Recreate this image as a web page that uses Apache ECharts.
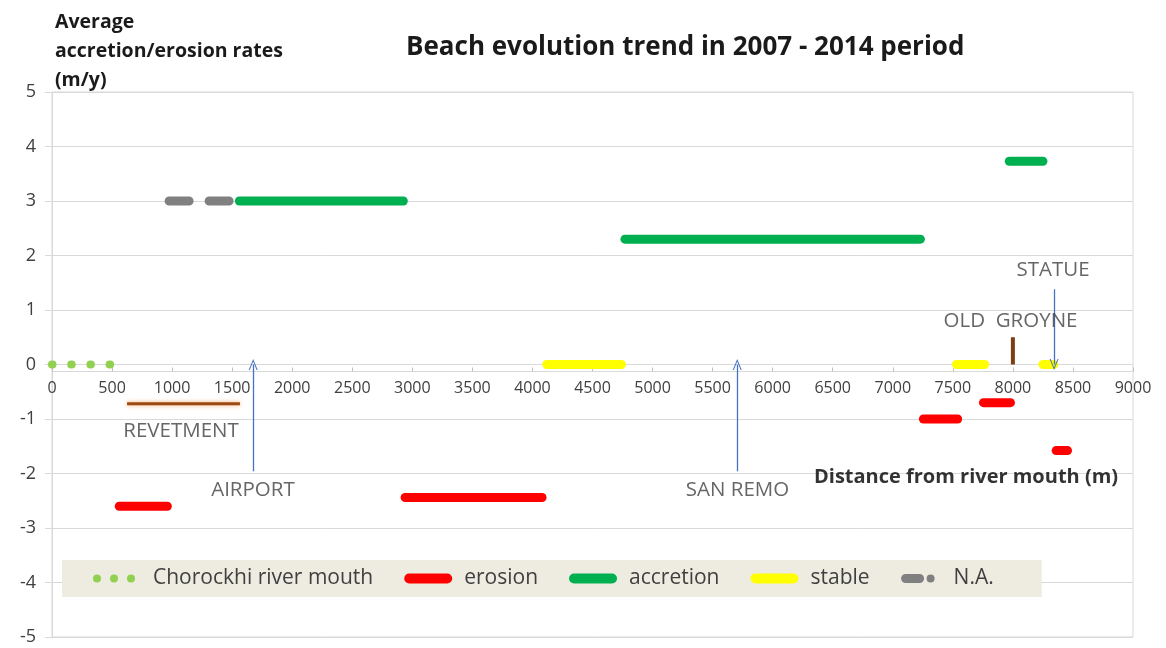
<!DOCTYPE html>
<html>
<head>
<meta charset="utf-8">
<title>Beach evolution trend in 2007 - 2014 period</title>
<script src="https://cdn.jsdelivr.net/npm/echarts@6/dist/echarts.min.js"></script>
<style>
  html, body { margin: 0; padding: 0; background: #ffffff; }
  #chart { width: 1166px; height: 648px; }
</style>
</head>
<body>
<div id="chart"></div>
<script>
// Axis ranges (distance along the coast in metres, rate in m/y)
const xRange = { min: 0, max: 9000, step: 500 };
const yRange = { min: -5, max: 5, step: 1 };

// Each segment: [startDistance, endDistance, averageRate]
const riverMouth = [[0, 500, 0]];
const erosion = [
  [560, 960, -2.6],
  [2940, 4080, -2.44],
  [7255, 7540, -1.0],
  [7755, 7980, -0.7],
  [8360, 8455, -1.58]
];
const accretion = [
  [1560, 2925, 3.0],
  [4770, 7230, 2.3],
  [7970, 8250, 3.73]
];
const stable = [
  [4120, 4740, 0],
  [7530, 7765, 0],
  [8250, 8340, 0]
];
const notAvailable = [[975, 1540, 3.0]];

// Coastal structures
const revetment = [[625, 1565, -0.72]];
const groyne = [[8000, 0, 0.5]];          // [distance, from, to]

// Landmark arrows: [distance, from rate, to rate]
const arrows = [
  [1675, -1.96, 0],
  [5705, -1.96, 0],
  [8343, 1.38, 0]
];

// Text annotations: [text, distance, rate]
const notes = [
  ['REVETMENT', 1074, -1.23],
  ['AIRPORT', 1673, -2.31],
  ['SAN REMO', 5707, -2.31],
  ['OLD  GROYNE', 7980, 0.79],
  ['STATUE', 8334, 1.74]
];
const axisNote = ['Distance from river mouth (m)', 7610, -2.07];

const FONT = '"Open Sans", Lato, sans-serif';
const TEXT = '#404040';
const GRID = '#d9d9d9';

const colors = {
  river: '#92d050',
  erosion: '#ff0000',
  accretion: '#00b050',
  stable: '#ffff00',
  na: '#808080',
  revetment: '#9c4a12',
  groyne: '#7b3f12',
  arrow: '#4472c4'
};

function segmentSeries(name, segs, color, extra) {
  return segs.map(([x1, x2, y]) => Object.assign({
    name: name,
    type: 'line',
    data: [[x1, y], [x2, y]],
    symbol: 'none',
    silent: true,
    color: color,
    lineStyle: { color: color, width: 9, cap: 'round' },
    z: 3
  }, extra || {}));
}

const series = [].concat(
  segmentSeries('Chorockhi river mouth', riverMouth, colors.river, {
    lineStyle: { color: colors.river, width: 8, cap: 'round', type: [0.5, 18.7] }
  }),
  segmentSeries('erosion', erosion, colors.erosion),
  segmentSeries('accretion', accretion, colors.accretion),
  segmentSeries('stable', stable, colors.stable),
  segmentSeries('N.A.', notAvailable, colors.na, {
    lineStyle: { color: colors.na, width: 9, cap: 'round', type: [20, 20] }
  }),
  revetment.map(([x1, x2, y]) => ({
    name: 'revetment',
    type: 'line',
    data: [[x1, y], [x2, y]],
    symbol: 'none',
    silent: true,
    lineStyle: { color: colors.revetment, width: 3, shadowColor: 'rgba(237,125,49,0.7)', shadowBlur: 4 },
    z: 2
  })),
  groyne.map(([x, y1, y2]) => ({
    name: 'groyne',
    type: 'line',
    data: [[x, y1], [x, y2]],
    symbol: 'none',
    silent: true,
    lineStyle: { color: colors.groyne, width: 4 },
    z: 2
  })),
  [{
    name: 'notes',
    type: 'scatter',
    symbolSize: 0,
    silent: true,
    z: 5,
    data: notes.map(([t, x, y]) => ({ name: t, value: [x, y] })).concat([{
      name: axisNote[0],
      value: [axisNote[1], axisNote[2]],
      label: { fontWeight: 'bold', color: '#000000', fontSize: 20 }
    }]),
    label: {
      show: true,
      position: 'inside',
      formatter: '{b}',
      fontFamily: FONT,
      fontSize: 20.5,
      color: TEXT
    },
    markLine: {
      silent: true,
      symbol: ['none', 'path://M0,12 L5,0 L10,12 L8.8,12 L5,2.6 L1.2,12 Z'],
      symbolSize: [9, 11],
      label: { show: false },
      lineStyle: { color: colors.arrow, width: 1.3, type: 'solid' },
      data: arrows.map(([x, y1, y2]) => [{ coord: [x, y1] }, { coord: [x, y2] }])
    }
  }]
);

// Legend icons drawn as 48x10 paths
const barIcon = 'path://M5,0 H43 A5,5 0 0 1 43,10 H5 A5,5 0 0 1 5,0 Z';
const dotsIcon = 'path://M0,5 A4,4 0 1 1 8,5 A4,4 0 1 1 0,5 Z M17,5 A4,4 0 1 1 25,5 A4,4 0 1 1 17,5 Z M34,5 A4,4 0 1 1 42,5 A4,4 0 1 1 34,5 Z M0,0 L0,0 M48,10 L48,10';
const dashDotIcon = 'path://M5,0.5 H19 A4.5,4.5 0 0 1 19,9.5 H5 A4.5,4.5 0 0 1 5,0.5 Z M26,5 A4,4 0 1 1 34,5 A4,4 0 1 1 26,5 Z M0,0 L0,0 M48,10 L48,10';

const chart = echarts.init(document.getElementById('chart'), null, { renderer: 'canvas' });
chart.setOption({
  animation: false,
  backgroundColor: '#ffffff',
  textStyle: { fontFamily: FONT },
  title: {
    text: 'Beach evolution trend in 2007 - 2014 period',
    left: 406,
    top: 35,
    padding: 0,
    textStyle: { fontFamily: FONT, fontSize: 26, fontWeight: 'bold', color: '#1a1a1a' }
  },
  legend: {
    left: 62,
    top: 560,
    orient: 'horizontal',
    backgroundColor: '#eeece1',
    padding: [8, 48, 8, 31],
    itemWidth: 48,
    itemHeight: 10,
    itemGap: 31,
    selectedMode: false,
    textStyle: { fontFamily: FONT, fontSize: 21, color: TEXT, padding: [0, 0, 0, 7] },
    data: [
      { name: 'Chorockhi river mouth', icon: dotsIcon },
      { name: 'erosion', icon: barIcon },
      { name: 'accretion', icon: barIcon },
      { name: 'stable', icon: barIcon },
      { name: 'N.A.', icon: dashDotIcon, textStyle: { padding: [0, 0, 0, 0] } }
    ]
  },
  grid: {
    left: 52,
    right: 33,
    top: 92,
    bottom: 11,
    show: true,
    borderColor: GRID,
    borderWidth: 1,
    backgroundColor: 'transparent'
  },
  xAxis: {
    type: 'value',
    min: xRange.min,
    max: xRange.max,
    interval: xRange.step,
    axisLine: { onZero: false, lineStyle: { color: GRID, width: 1 } },
    axisTick: { show: true, inside: true, length: 4, lineStyle: { color: '#bfbfbf' } },
    axisLabel: { fontFamily: FONT, fontSize: 16, color: TEXT, margin: 9, formatter: v => String(v) },
    splitLine: { show: false }
  },
  yAxis: {
    type: 'value',
    min: yRange.min,
    max: yRange.max,
    interval: yRange.step,
    name: 'Average\naccretion/erosion rates\n(m/y)',
    nameLocation: 'end',
    nameGap: -3,
    nameTextStyle: {
      fontFamily: FONT, fontSize: 19.5, fontWeight: 'bold', color: '#1a1a1a',
      align: 'left', verticalAlign: 'bottom', lineHeight: 29, padding: [0, 0, 0, 3]
    },
    axisLine: { show: true, lineStyle: { color: GRID } },
    axisTick: { show: true, length: 7, lineStyle: { color: GRID } },
    axisLabel: { fontFamily: FONT, fontSize: 18, color: TEXT, margin: 16, formatter: v => String(v) },
    splitLine: { show: true, lineStyle: { color: GRID, width: 1 } }
  },
  series: series
});

// Distance axis runs along the zero-rate line
const zeroPx = chart.convertToPixel({ yAxisIndex: 0 }, 0);
const basePx = chart.convertToPixel({ yAxisIndex: 0 }, yRange.min);
chart.setOption({ xAxis: { offset: -(basePx - zeroPx) } });
</script>
</body>
</html>
